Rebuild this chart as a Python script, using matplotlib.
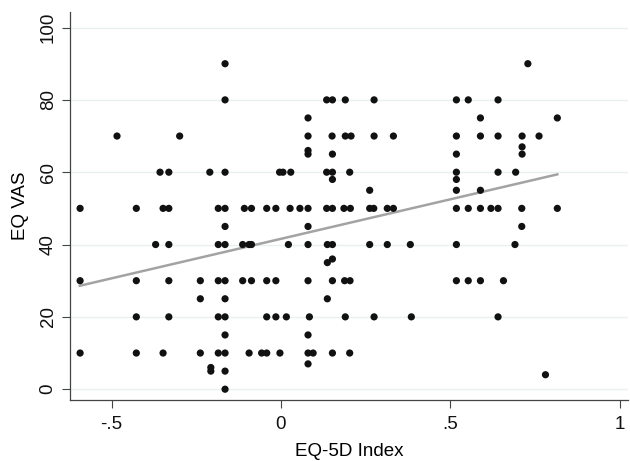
import matplotlib
matplotlib.use("Agg")
import matplotlib.pyplot as plt

# EQ-5D index vs EQ VAS (grouped by VAS value)
vas_levels = [90, 80, 75, 70, 67, 66, 65, 60, 58, 55, 50, 45, 40, 36, 35,
              30, 25, 20, 15, 10, 7, 6, 5, 4, 0]
index_by_vas = [
    [-0.165, 0.729],
    [-0.165, 0.135, 0.152, 0.190, 0.275, 0.518, 0.553, 0.641],
    [0.080, 0.589, 0.816],
    [-0.484, -0.299, 0.080, 0.151, 0.190, 0.207, 0.275, 0.332, 0.518, 0.589,
     0.641, 0.712, 0.762],
    [0.712],
    [0.080],
    [0.080, 0.152, 0.518, 0.712],
    [-0.357, -0.331, -0.210, -0.165, -0.004, 0.006, 0.029, 0.135, 0.152,
     0.203, 0.518, 0.641, 0.693],
    [0.152, 0.518],
    [0.262, 0.518, 0.589],
    [-0.593, -0.427, -0.348, -0.331, -0.185, -0.165, -0.108, -0.087, -0.042,
     -0.015, 0.027, 0.056, 0.080, 0.135, 0.152, 0.186, 0.205, 0.262, 0.274,
     0.314, 0.332, 0.518, 0.553, 0.589, 0.620, 0.641, 0.711, 0.816],
    [-0.165, 0.080, 0.711],
    [-0.370, -0.331, -0.185, -0.165, -0.113, -0.094, -0.087, 0.022, 0.080,
     0.137, 0.152, 0.262, 0.314, 0.382, 0.518, 0.691],
    [0.152],
    [0.137],
    [-0.593, -0.427, -0.331, -0.238, -0.185, -0.165, -0.113, -0.087, -0.042,
     -0.015, 0.080, 0.152, 0.188, 0.204, 0.518, 0.553, 0.589, 0.657],
    [-0.238, -0.165, 0.137],
    [-0.427, -0.331, -0.185, -0.165, -0.042, -0.015, 0.016, 0.084, 0.190,
     0.275, 0.385, 0.641],
    [-0.165, 0.080],
    [-0.593, -0.427, -0.348, -0.238, -0.185, -0.165, -0.094, -0.057, -0.042,
     -0.003, 0.080, 0.095, 0.152, 0.203],
    [0.080],
    [-0.207],
    [-0.207, -0.165],
    [0.781],
    [-0.165],
]

# fitted line endpoints as drawn in the reference
fit_x = [-0.594, 0.816]
fit_y = [28.6, 59.4]

xticks = [-0.5, 0, 0.5, 1]
xtick_labels = ["-.5", "0", ".5", "1"]
yticks = [0, 20, 40, 60, 80, 100]

xs, ys = [], []
for v, idx in zip(vas_levels, index_by_vas):
    xs.extend(idx)
    ys.extend([v] * len(idx))

plt.rcParams["font.family"] = ["Liberation Sans", "DejaVu Sans"]

fig = plt.figure(figsize=(6.3, 4.61), dpi=100)
ax = fig.add_axes([0.111, 0.133, 0.886, 0.841])

ax.set_axisbelow(True)
ax.grid(axis="y", color="#e9f0f2", linewidth=1.0)
ax.scatter(xs, ys, s=27, color="#111111", edgecolors="none", zorder=3)
ax.plot(fit_x, fit_y, color="#a3a3a3", linewidth=1.8, zorder=2)

ax.set_xlim(-0.623, 1.025)
ax.set_ylim(-2.9, 104.3)
ax.set_xticks(xticks)
ax.set_xticklabels(xtick_labels)
ax.set_yticks(yticks)
for lab in ax.get_yticklabels():
    lab.set_rotation(90)
    lab.set_verticalalignment("center")

ax.tick_params(axis="both", labelsize=13.5, length=6, width=0.8,
               color="#444444", labelcolor="#111111")
ax.tick_params(axis="x", pad=6)
for side in ["top", "right"]:
    ax.spines[side].set_visible(False)
for side in ["left", "bottom"]:
    ax.spines[side].set_color("#444444")
    ax.spines[side].set_linewidth(0.9)

ax.set_xlabel("EQ-5D Index", fontsize=13.5, labelpad=7)
ax.set_ylabel("EQ VAS", fontsize=13.5, labelpad=8)

fig.savefig("out.png", dpi=100, facecolor="white")
